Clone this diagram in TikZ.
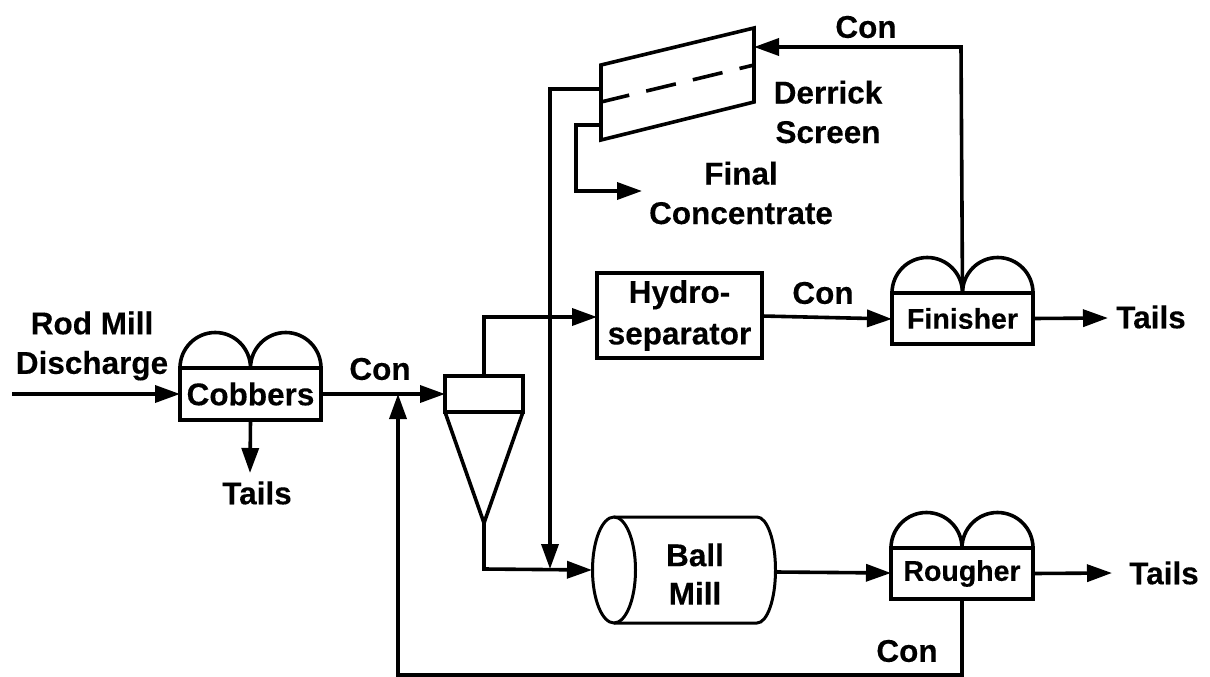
\documentclass[tikz,border=0pt]{standalone}
\usepackage{fontspec}
\setmainfont[BoldFeatures={FakeBold=0.25}]{Liberation Sans}
\usetikzlibrary{arrows.meta}
\tikzset{
  ln/.style={line width=3.6pt,line join=miter},
  flow/.style={ln,-{Triangle[length=25pt,width=17pt]}},
  lab/.style={font=\fontsize{31.5}{31.5}\selectfont\bfseries,inner sep=0pt,align=center},
  labs/.style={font=\fontsize{28.5}{28.5}\selectfont\bfseries,inner sep=0pt,align=center},
  unit/.style={draw,ln,inner sep=0pt,outer sep=0pt,align=center},
}
\begin{document}
\begin{tikzpicture}[x=1pt,y=-1pt]
\useasboundingbox (0,0) rectangle (1210,677);
% coordinates
\coordinate (in) at (12,394);
\coordinate (scTL) at (601,65);
\coordinate (scTR) at (754,28);
\coordinate (scBR) at (754,102);
\coordinate (scBL) at (601,140);
\coordinate (dashL) at (601,102);
\coordinate (dashR) at (754,65);
\coordinate (scFeed) at (601,89);
\coordinate (scOut) at (601,125);
\coordinate (scIn) at (754,47);
\coordinate (apex) at (484,523);
\coordinate (cycFeed) at (445,394);
\coordinate (junc) at (398,394);
\coordinate (millJ) at (550,569);
\coordinate (millL) at (592,570);
\coordinate (millR) at (776,572);
% units
\node[unit,lab,minimum width=141pt,minimum height=52pt] (cob) at (250.5,394) {Cobbers};
\node[unit,labs,minimum width=141pt,minimum height=51pt] (fin) at (962.5,318.5) {Finisher};
\node[unit,labs,minimum width=142pt,minimum height=51pt] (rou) at (962,573.5) {Rougher};
\node[unit,lab,minimum width=165pt,minimum height=85pt] (hyd) at (679.5,315.5) {\raisebox{-2pt}{Hydro-}\\[10pt]\raisebox{-2pt}{separator}};
\node[unit,minimum width=78pt,minimum height=36pt] (cyc) at (484,394) {};
% domes
\foreach \u/\r in {cob/35.25,fin/35.25,rou/35.5}{
  \draw[ln] (\u.north west) arc[start angle=180,end angle=360,x radius=\r,y radius=35.5]
            arc[start angle=180,end angle=360,x radius=\r,y radius=35.5];
}
% cyclone cone
\draw[ln] (cyc.south west) -- (apex) -- (cyc.south east);
% screen
\draw[ln] (scTL) -- (scTR) -- (scBR) -- (scBL) -- cycle;
\draw[ln,dash pattern=on 30.5pt off 17.5pt,dash phase=1.5pt] (dashL) -- (dashR);
% ball mill
\draw[ln,line width=3pt] (614,517) -- (757,517) arc[start angle=-90,end angle=90,x radius=18.5,y radius=53] -- (614,623);
\draw[ln,line width=3pt] (614,570) ellipse[x radius=21.5,y radius=53];
\node[lab] (mill) at (695,574) {Ball\\[7pt]Mill};
% flows
\draw[flow] (in) -- (cob.west);
\draw[flow] (cob.east) -- (cycFeed);
\draw[flow] (cob.south) -- (250,473);
\draw[flow] (cyc.north) -- (484,317) -- (hyd.west |- 0,317);
\draw[flow] (hyd.east |- 0,316) -- (fin.west |- 0,319);
\draw[flow] (fin.north) -- (961,47) -- (scIn);
\draw[flow] (fin.east) -- (1108,318);
\draw[flow] (scFeed) -- (550,89) -- (millJ);
\draw[flow] (scOut) -- (576,125) -- (576,191) -- (642,191);
\draw[flow] (apex) -- (484,569) -- (millL);
\draw[flow] (millR) -- (rou.west |- 0,573);
\draw[flow] (rou.east) -- (1112,573);
\draw[flow] (rou.south) -- (962,675) -- (398,675) -- (junc);
% labels
\node[lab] (rod) at (92,346) {Rod Mill\\[8pt]Discharge};
\node[lab] (c1) at (380,369) {Con};
\node[lab] (t1) at (257,493) {Tails};
\node[lab] (c2) at (823,293) {Con};
\node[lab] (c3) at (866,27) {Con};
\node[lab] (c4) at (907,651) {Con};
\node[lab] (t2) at (1151,317) {Tails};
\node[lab] (t3) at (1164,573) {Tails};
\node[lab] (der) at (828,112) {Derrick\\[8pt]Screen};
\node[lab] (fc) at (741,193) {Final\\[8pt]Concentrate};
\end{tikzpicture}
\end{document}
